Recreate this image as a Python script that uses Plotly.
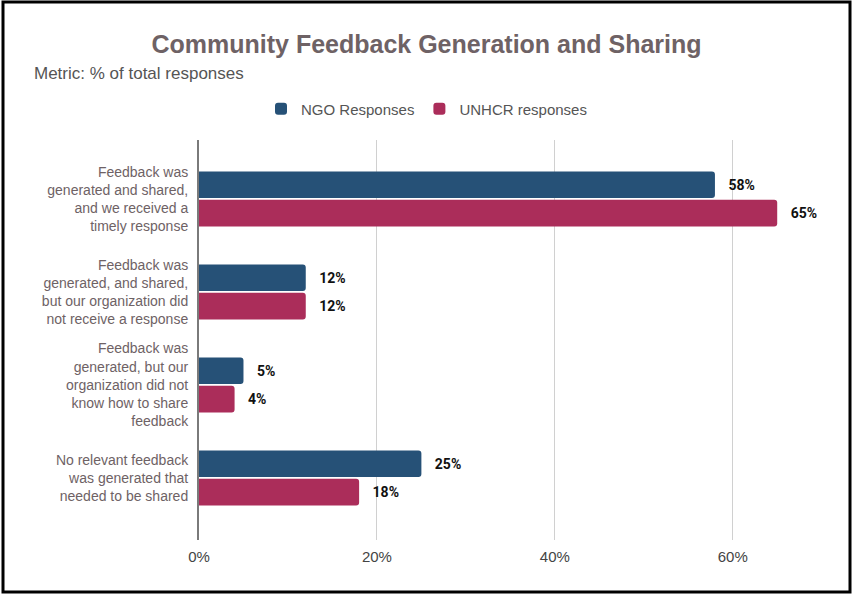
import plotly.graph_objects as go

# Survey categories (top to bottom) and share of responses per respondent group
categories = [
    "Feedback was<br>generated and shared,<br>and we received a<br>timely response",
    "Feedback was<br>generated, and shared,<br>but our organization did<br>not receive a response",
    "Feedback was<br>generated, but our<br>organization did not<br>know how to share<br>feedback",
    "No relevant feedback<br>was generated that<br>needed to be shared",
]
ngo_pct = [58, 12, 5, 25]
unhcr_pct = [65, 12, 4, 18]
series_names = ["NGO Responses", "UNHCR responses"]
x_tick_values = [0, 20, 40, 60]
x_tick_labels = ["0%", "20%", "40%", "60%"]

W, H = 853, 594
ML, MR, MT, MB = 199, 58, 140, 54
PW, PH = W - ML - MR, H - MT - MB


def px_to_paper_x(px):
    return (px - ML) / PW


def px_to_paper_y(py):
    return (H - MB - py) / PH


NGO_COLOR = "#265177"
UNHCR_COLOR = "#ab2d5a"
LABEL_PAD = "\u00a0\u00a0\u00a0"
BASE_FONT = "Liberation Sans, Arial, Helvetica"

fig = go.Figure()
for name, vals, color in [
    (series_names[0], ngo_pct, NGO_COLOR),
    (series_names[1], unhcr_pct, UNHCR_COLOR),
]:
    fig.add_trace(
        go.Bar(
            y=categories,
            x=vals,
            name=name,
            orientation="h",
            marker=dict(color=color, line=dict(width=0)),
            text=vals,
            texttemplate=LABEL_PAD + "%{x}%",
            textposition="outside",
            textfont=dict(family="Roboto", size=14, color="#111111", weight="bold"),
            cliponaxis=False,
        )
    )

fig.update_layout(
    width=W,
    height=H,
    margin=dict(l=ML, r=MR, t=MT, b=MB),
    paper_bgcolor="white",
    plot_bgcolor="white",
    barmode="group",
    bargap=0.39,
    bargroupgap=0.06,
    barcornerradius=3,
    title=dict(
        text="<b>Community Feedback Generation and Sharing</b>",
        x=0.5,
        xanchor="center",
        xref="container",
        y=1 - 44 / H,
        yanchor="middle",
        yref="container",
        font=dict(family=BASE_FONT, size=25, color="#6e6265"),
    ),
    legend=dict(
        orientation="h",
        xref="container",
        yref="container",
        x=0.5,
        xanchor="center",
        y=1 - 109 / H,
        yanchor="middle",
        font=dict(family=BASE_FONT, size=15, color="#555555"),
        itemwidth=30,
        traceorder="normal",
    ),
    xaxis=dict(
        range=[0, 67],
        tickvals=x_tick_values,
        ticktext=x_tick_labels,
        showgrid=True,
        gridcolor="#d0d0d0",
        gridwidth=1,
        zeroline=False,
        showline=False,
        ticks="",
        tickfont=dict(family=BASE_FONT, size=15, color="#444444"),
        ticklabelstandoff=6,
    ),
    yaxis=dict(
        range=[3.667, -0.634],
        showgrid=False,
        zeroline=False,
        showline=True,
        linecolor="#7a7a7a",
        linewidth=2,
        ticks="",
        tickfont=dict(family=BASE_FONT, size=14, color="#6e6265"),
        ticklabelstandoff=6,
    ),
    annotations=[
        dict(
            text="Metric: % of total responses",
            xref="paper",
            yref="paper",
            x=px_to_paper_x(32),
            y=px_to_paper_y(73),
            xanchor="left",
            yanchor="middle",
            showarrow=False,
            font=dict(family=BASE_FONT, size=17, color="#555555"),
        )
    ],
    shapes=[
        dict(
            type="rect",
            xref="paper",
            yref="paper",
            x0=px_to_paper_x(3),
            x1=px_to_paper_x(850),
            y0=px_to_paper_y(592),
            y1=px_to_paper_y(2),
            line=dict(color="#000000", width=3),
            fillcolor="rgba(0,0,0,0)",
            layer="above",
        )
    ],
)

fig.write_html("out.html")
